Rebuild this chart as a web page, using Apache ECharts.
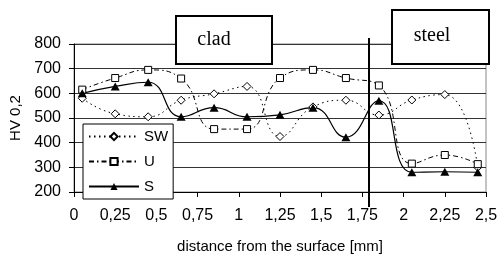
<!DOCTYPE html>
<html>
<head>
<meta charset="utf-8">
<script src="https://cdn.jsdelivr.net/npm/echarts@6/dist/echarts.min.js"></script>
<style>html,body{margin:0;padding:0;background:#fff}#c{width:499px;height:256px}</style>
</head>
<body>
<div id="c"></div>
<script>
const distances = [0.05, 0.25, 0.45, 0.65, 0.85, 1.05, 1.25, 1.45, 1.65, 1.85, 2.05, 2.25, 2.45];
const SW = [580, 517, 505, 572, 598, 628, 425, 545, 572, 512, 573, 595, 300];
const U  = [615, 662, 695, 660, 455, 455, 662, 695, 662, 632, 315, 350, 313];
const S  = [600, 628, 645, 505, 542, 505, 513, 542, 422, 570, 280, 282, 280];
const boundary = 1.79;
const zoneLabels = ['clad', 'steel'];

const pairs = arr => distances.map((d, i) => [d, arr[i]]);
const FONT = 'Liberation Sans, Arial, sans-serif';

const chart = echarts.init(document.getElementById('c'), null, {renderer: 'canvas'});
chart.setOption({
  animation: false,
  backgroundColor: '#fff',
  grid: {left: 74, right: 13, top: 44, bottom: 64, show: true, borderColor: '#888', borderWidth: 1,
    backgroundColor: 'transparent', containLabel: false, outerBoundsMode: 'none'},
  xAxis: {
    type: 'value', min: 0, max: 2.5, interval: 0.25,
    name: 'distance from the surface [mm]', nameLocation: 'middle', nameGap: 47,
    nameTextStyle: {fontFamily: FONT, fontSize: 15, color: '#000'},
    axisLine: {lineStyle: {color: '#000', width: 1}},
    axisTick: {show: true, length: 5, lineStyle: {color: '#000'}},
    axisLabel: {fontFamily: FONT, fontSize: 16, color: '#000', margin: 16,
      formatter: v => String(+v.toFixed(2)).replace('.', ',')},
    splitLine: {show: false}
  },
  yAxis: {
    type: 'value', min: 200, max: 800, interval: 100,
    name: 'HV 0,2', nameLocation: 'middle', nameGap: 48, nameRotate: 90,
    nameTextStyle: {fontFamily: FONT, fontSize: 15, color: '#000'},
    axisLine: {show: true, lineStyle: {color: '#000', width: 1}},
    axisTick: {show: true, length: 5, lineStyle: {color: '#000'}},
    axisLabel: {fontFamily: FONT, fontSize: 16, color: '#000', margin: 13},
    splitLine: {show: true, lineStyle: {color: '#333', width: 1}}
  },
  legend: {
    orient: 'vertical', left: 83, top: 124,
    padding: [5, 5, 5, 5], itemGap: 10, itemWidth: 50, itemHeight: 9,
    borderColor: '#000', borderWidth: 1, backgroundColor: '#fff',
    textStyle: {fontFamily: FONT, fontSize: 15, color: '#000'},
    data: ['SW', 'U', 'S']
  },
  series: [
    {name: 'SW', type: 'line', data: pairs(SW), smooth: 0.5,
      symbol: 'diamond', symbolSize: 8,
      lineStyle: {color: '#000', width: 1, type: [1.5, 3.5]},
      itemStyle: {color: '#fff', borderColor: '#000', borderWidth: 1}},
    {name: 'U', type: 'line', data: pairs(U), smooth: 0.5,
      symbol: 'rect', symbolSize: 7,
      lineStyle: {color: '#000', width: 1, type: [5, 3, 1.5, 3]},
      itemStyle: {color: '#fff', borderColor: '#000', borderWidth: 1}},
    {name: 'S', type: 'line', data: pairs(S), smooth: 0.5,
      symbol: 'triangle', symbolSize: [9, 8],
      lineStyle: {color: '#000', width: 1.2, type: 'solid'},
      itemStyle: {color: '#000', borderColor: '#000', borderWidth: 0}}
  ]
});

const pTop = chart.convertToPixel({gridIndex: 0}, [boundary, 800]);
const pBot = chart.convertToPixel({gridIndex: 0}, [boundary, 200]);
chart.setOption({
  graphic: [
    {type: 'line', shape: {x1: pTop[0], y1: pTop[1] - 6, x2: pBot[0], y2: pBot[1] + 15},
      style: {stroke: '#000', lineWidth: 2}, z: 100},
    {type: 'rect', shape: {x: 176, y: 16, width: 96, height: 48},
      style: {fill: '#fff', stroke: '#000', lineWidth: 2}, z: 100},
    {type: 'text', x: 214, y: 40, style: {text: zoneLabels[0], font: '20px "Liberation Serif", "Times New Roman", serif', fill: '#000', align: 'center', verticalAlign: 'middle'}, z: 101},
    {type: 'rect', shape: {x: 392, y: 10, width: 97, height: 54},
      style: {fill: '#fff', stroke: '#000', lineWidth: 2}, z: 100},
    {type: 'text', x: 432, y: 36, style: {text: zoneLabels[1], font: '20px "Liberation Serif", "Times New Roman", serif', fill: '#000', align: 'center', verticalAlign: 'middle'}, z: 101}
  ]
});
</script>
</body>
</html>
